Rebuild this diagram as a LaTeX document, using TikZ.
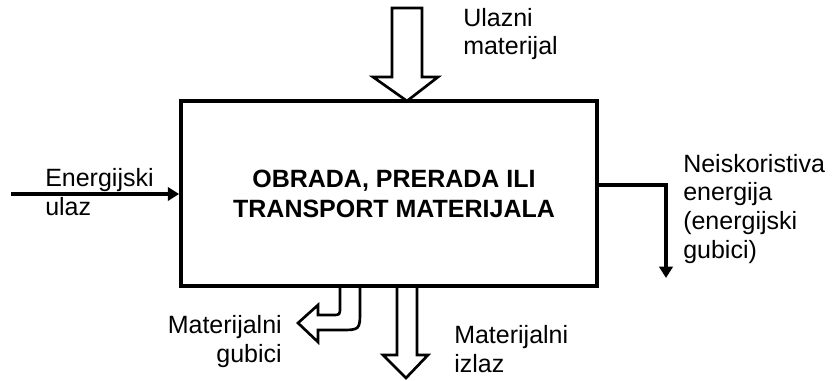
\documentclass[tikz,border=0pt]{standalone}
\usepackage{fontspec}
\setmainfont{Liberation Sans}
\usepackage{tikz}
\usetikzlibrary{positioning,calc,arrows.meta}

\begin{document}
\begin{tikzpicture}[x=0.75pt,y=-0.75pt,
    font=\fontsize{18.75}{21.4}\selectfont,
    procbox/.style={draw, line width=2.8pt, minimum width=312pt, minimum height=138.75pt,
        align=center, font=\fontsize{18.75}{22.5}\selectfont\bfseries},
    hollow/.style={draw, line width=2pt, line join=miter, fill=white},
    enarrow/.style={line width=2.8pt, -{Triangle[length=8.5pt,width=10pt]}},
    lbl/.style={inner sep=0pt, align=left, anchor=base west}]

% 크기: 832 x 381 px, 마지막 줄 기준선에 맞춤
\useasboundingbox (0,0) rectangle (832,381);

% 중앙 블록
\node[procbox] (proc) at (389,193.5) {\hspace*{7.5pt}OBRADA, PRERADA ILI\\\hspace*{7.5pt}TRANSPORT MATERIJALA};

% 위: 재료 입력
\draw[hollow] (392,8) -- (422,8) -- (422,77) -- (438,77) -- (407,101)
    -- (373,77) -- (392,77) -- cycle;
\node[lbl] (inmat) at (463,55) {Ulazni\\materijal};

% 왼쪽: 에너지 입력
\coordinate (ein) at (11,194);
\draw[enarrow] (ein) -- (ein -| proc.west);
\node[lbl] (inen) at (45,215) {Energijski\\ulaz};

% 오른쪽: 에너지 손실
\coordinate (eturn) at (666,185);
\coordinate (eout) at (666,278);
\draw[enarrow] (proc.east |- eturn) -- (eturn) -- (eout);
\node[lbl] (losen) at (683,258) {Neiskoristiva\\energija\\(energijski\\gubici)};

% 아래: 재료 손실 (굽은 화살표)
\draw[hollow] (360,288) -- (360,310) .. controls (360,330) .. (340,330)
    -- (318,330) -- (318,342) -- (298,323) -- (318,305) -- (318,315)
    -- (332,315) .. controls (340,315) .. (340,307) -- (340,288);
\node[lbl, align=right, anchor=base east] (losmat) at (282,362) {Materijalni\\gubici};

% 아래: 재료 출력
\draw[hollow] (397,288) -- (397,355) -- (383,355) -- (406,378) -- (428,355)
    -- (417,355) -- (417,288);
\node[lbl] (outmat) at (454,372) {Materijalni\\izlaz};

\end{tikzpicture}
\end{document}
